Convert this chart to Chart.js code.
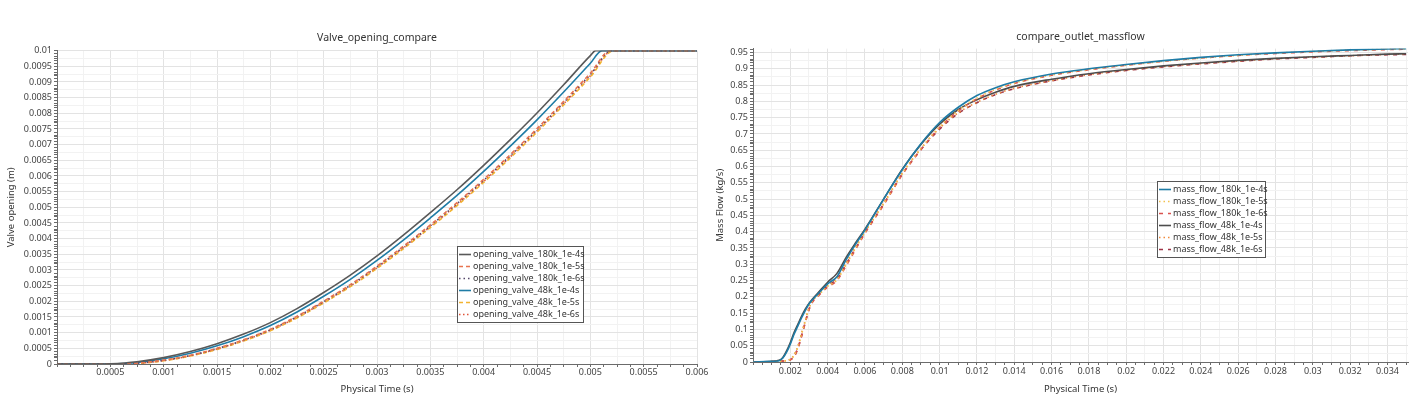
<!DOCTYPE html>
<html>
<head>
<meta charset="utf-8">
<script src="https://cdn.jsdelivr.net/npm/chart.js@4.4.1/dist/chart.umd.min.js"></script>
<style>
  html, body { margin: 0; padding: 0; background: #fff; }
  .wrap { position: absolute; top: 0; height: 400px; }
  #leftWrap { left: 0; width: 709px; }
  #rightWrap { left: 709px; width: 710px; }
</style>
</head>
<body>
<div class="wrap" id="leftWrap"><canvas id="valveChart" width="709" height="400"></canvas></div>
<div class="wrap" id="rightWrap"><canvas id="flowChart" width="710" height="400"></canvas></div>
<script>
// valve opening [time (s), opening (m)]
const opening180k_1e4s = [[0,0],[0.0004,0],[0.0005,0.000007],[0.00075,0.000073],[0.001,0.000204],[0.00125,0.000396],[0.0015,0.000646],[0.00175,0.000954],[0.002,0.00132],[0.00225,0.001766],[0.0025,0.00228],[0.00275,0.002835],[0.003,0.00345],[0.00325,0.00412],[0.0035,0.00483],[0.00375,0.00556],[0.004,0.00634],[0.00425,0.00716],[0.0045,0.00801],[0.00475,0.00891],[0.005,0.00984],[0.00505,0.01],[0.006,0.01]]
const opening180k_1e5s = [[0,0],[0.00054,0],[0.00075,0.000028],[0.001,0.000123],[0.00125,0.000281],[0.0015,0.000499],[0.00175,0.000775],[0.002,0.001107],[0.00225,0.001524],[0.0025,0.002007],[0.00275,0.002533],[0.003,0.003123],[0.00325,0.003764],[0.0035,0.004439],[0.00375,0.005146],[0.004,0.005892],[0.00425,0.006682],[0.0045,0.00751],[0.00475,0.008379],[0.005,0.009278],[0.00519,0.01],[0.006,0.01]]
const opening180k_1e6s = [[0,0],[0.00055,0],[0.00075,0.000024],[0.001,0.000117],[0.00125,0.000272],[0.0015,0.000488],[0.00175,0.000762],[0.002,0.001091],[0.00225,0.001506],[0.0025,0.001987],[0.00275,0.002511],[0.003,0.003099],[0.00325,0.003738],[0.0035,0.004411],[0.00375,0.005116],[0.004,0.00586],[0.00425,0.006648],[0.0045,0.007474],[0.00475,0.008341],[0.005,0.009238],[0.0052,0.01],[0.006,0.01]]
const opening48k_1e4s = [[0,0],[0.00046,0],[0.0005,0.000001],[0.00075,0.000049],[0.001,0.000165],[0.00125,0.000343],[0.0015,0.000579],[0.00175,0.000873],[0.002,0.001226],[0.00225,0.001659],[0.0025,0.00216],[0.00275,0.002702],[0.003,0.003305],[0.00325,0.003962],[0.0035,0.00466],[0.00375,0.005378],[0.004,0.006145],[0.00425,0.006953],[0.0045,0.007791],[0.00475,0.008679],[0.005,0.009597],[0.00511,0.01],[0.006,0.01]]
const opening48k_1e5s = [[0,0],[0.00057,0],[0.00075,0.000016],[0.001,0.000104],[0.00125,0.000254],[0.0015,0.000466],[0.00175,0.000735],[0.002,0.00106],[0.00225,0.00147],[0.0025,0.001947],[0.00275,0.002467],[0.003,0.00305],[0.00325,0.003685],[0.0035,0.004354],[0.00375,0.005055],[0.004,0.005795],[0.00425,0.006579],[0.0045,0.007401],[0.00475,0.008264],[0.005,0.009157],[0.00522,0.01],[0.006,0.01]]
const opening48k_1e6s = [[0,0],[0.00056,0],[0.00075,0.00002],[0.001,0.00011],[0.00125,0.000263],[0.0015,0.000477],[0.00175,0.000748],[0.002,0.001076],[0.00225,0.001488],[0.0025,0.001967],[0.00275,0.002489],[0.003,0.003075],[0.00325,0.003711],[0.0035,0.004382],[0.00375,0.005085],[0.004,0.005827],[0.00425,0.006613],[0.0045,0.007437],[0.00475,0.008302],[0.005,0.009197],[0.00521,0.01],[0.006,0.01]]

// outlet mass flow, shared time axis (s) and values (kg/s)
const flowTime = [0,0.001,0.0014,0.0016,0.0018,0.002,0.0022,0.0024,0.0026,0.0028,0.003,0.0032,0.0035,0.004,0.0045,0.005,0.0055,0.006,0.007,0.008,0.009,0.01,0.011,0.012,0.013,0.014,0.016,0.018,0.02,0.022,0.024,0.026,0.028,0.03,0.032,0.034,0.035]
const flow180k_1e4s = [0,0.002,0.004,0.012,0.03,0.055,0.085,0.11,0.135,0.158,0.178,0.192,0.21,0.24,0.262,0.315,0.362,0.405,0.5,0.59,0.67,0.735,0.782,0.818,0.842,0.86,0.884,0.9,0.913,0.925,0.935,0.943,0.949,0.954,0.958,0.961,0.962]
const flow180k_1e5s = [0,0.001,0.002,0.003,0.004,0.008,0.02,0.045,0.085,0.125,0.165,0.188,0.205,0.232,0.252,0.3,0.35,0.398,0.485,0.578,0.655,0.722,0.772,0.81,0.837,0.856,0.881,0.898,0.911,0.923,0.933,0.941,0.948,0.953,0.957,0.96,0.961]
const flow180k_1e6s = [0,0.001,0.002,0.003,0.004,0.007,0.016,0.04,0.078,0.12,0.16,0.185,0.203,0.23,0.25,0.296,0.346,0.395,0.482,0.575,0.652,0.72,0.77,0.808,0.835,0.855,0.88,0.897,0.911,0.923,0.933,0.941,0.947,0.952,0.956,0.959,0.96]
const flow48k_1e4s = [0,0.002,0.005,0.014,0.034,0.06,0.09,0.115,0.14,0.162,0.18,0.194,0.213,0.245,0.272,0.322,0.366,0.408,0.5,0.592,0.668,0.73,0.775,0.805,0.828,0.846,0.868,0.885,0.898,0.909,0.918,0.926,0.932,0.937,0.941,0.945,0.946]
const flow48k_1e5s = [0,0.001,0.002,0.003,0.004,0.008,0.022,0.048,0.088,0.128,0.167,0.19,0.208,0.236,0.258,0.305,0.354,0.4,0.488,0.58,0.655,0.718,0.765,0.797,0.822,0.84,0.864,0.882,0.896,0.907,0.916,0.924,0.931,0.936,0.94,0.944,0.945]
const flow48k_1e6s = [0,0.001,0.002,0.003,0.004,0.007,0.018,0.042,0.08,0.122,0.162,0.187,0.206,0.234,0.255,0.302,0.35,0.397,0.485,0.577,0.652,0.715,0.763,0.796,0.821,0.839,0.863,0.881,0.895,0.906,0.915,0.923,0.93,0.935,0.94,0.943,0.944]

// axis steps: labelled ticks, light grid, small tick marks
const valveXMajor = 0.0005, valveXMinor = 0.00025, valveXMark = 0.000125
const valveYMajor = 0.0005, valveYMinor = 0.00025, valveYMark = 0.0001
const flowXMajor = 0.002, flowXMinor = 0.001, flowXMark = 0.0005
const flowYMajor = 0.05, flowYMinor = 0.025, flowYMark = 0.01

const FONT = '"Noto Sans", "Open Sans", sans-serif'

function isMult(v, step) {
  const r = v / step
  return Math.abs(r - Math.round(r)) < 1e-6
}

function fmt(v) {
  return String(+v.toFixed(6))
}

// ticks at every small mark plus the light grid positions
function tickList(max, mark, minor) {
  const vals = []
  for (let i = 0; i * mark <= max + 1e-12; i++) vals.push(+(i * mark).toFixed(8))
  for (let i = 0; i * minor <= max + 1e-12; i++) {
    const v = +(i * minor).toFixed(8)
    if (!vals.some(x => Math.abs(x - v) < 1e-10)) vals.push(v)
  }
  return vals.sort((a, b) => a - b)
}

function makeAxis(opt) {
  return {
    type: 'linear',
    min: 0,
    max: opt.max,
    afterBuildTicks: scale => {
      scale.ticks = tickList(opt.max, opt.mark, opt.minor).map(v => ({value: v}))
    },
    afterFit: scale => {
      if (opt.width) scale.width = opt.width
      if (opt.height) scale.height = opt.height
      if (opt.padRight !== undefined) { scale.paddingRight = opt.padRight; scale.paddingLeft = 0 }
    },
    border: {color: '#6b6b6b', width: 1},
    grid: {
      color: c => {
        const v = c.tick ? c.tick.value : 0
        if (isMult(v, opt.major)) return '#e3e3e3'
        if (isMult(v, opt.minor)) return '#f2f2f2'
        return 'rgba(0,0,0,0)'
      },
      tickColor: '#6b6b6b',
      tickLength: 3,
      lineWidth: 1
    },
    ticks: {
      autoSkip: false,
      maxRotation: 0,
      padding: opt.tickPad,
      color: '#444',
      font: {family: FONT, size: 9},
      callback: v => (isMult(v, opt.major) && (opt.zero || v !== 0)) ? fmt(v) : ''
    },
    title: {
      display: true,
      text: opt.title,
      color: '#333',
      font: {family: FONT, size: 9.5},
      padding: opt.titlePad
    }
  }
}

// boxed legend drawn inside the plot
const boxLegend = {
  id: 'boxLegend',
  afterDraw(chart, args, o) {
    const ctx = chart.ctx
    const sets = chart.data.datasets
    const h = sets.length * o.rowH + 4
    ctx.save()
    ctx.fillStyle = '#fff'
    ctx.fillRect(o.x, o.y, o.w, h)
    ctx.strokeStyle = '#555'
    ctx.lineWidth = 1
    ctx.strokeRect(o.x + 0.5, o.y + 0.5, o.w, h)
    ctx.font = '9px ' + FONT
    ctx.textBaseline = 'middle'
    sets.forEach((ds, i) => {
      const cy = Math.round(o.y + 2 + o.rowH * i + o.rowH / 2) + 0.5
      ctx.strokeStyle = ds.borderColor
      ctx.lineWidth = ds.borderWidth
      ctx.setLineDash(ds.borderDash || [])
      ctx.beginPath()
      ctx.moveTo(o.x + 2, cy)
      ctx.lineTo(o.x + 14, cy)
      ctx.stroke()
      ctx.setLineDash([])
      ctx.fillStyle = '#333'
      ctx.fillText(ds.label, o.x + 16, cy)
    })
    ctx.restore()
  }
}

function series(label, data, color, dash) {
  return {
    label: label,
    data: data,
    borderColor: color,
    backgroundColor: color,
    borderWidth: 1.6,
    borderDash: dash,
    pointRadius: 0,
    fill: false,
    cubicInterpolationMode: 'monotone'
  }
}

function titleOpts(text, top, bottom) {
  return {
    display: true,
    text: text,
    fullSize: false,
    color: '#333',
    font: {family: FONT, size: 10.5, weight: 'normal'},
    padding: {top: top, bottom: bottom}
  }
}

new Chart(document.getElementById('valveChart'), {
  type: 'line',
  data: {
    datasets: [
      series('opening_valve_180k_1e-4s', opening180k_1e4s, '#595959', []),
      series('opening_valve_180k_1e-5s', opening180k_1e5s, '#e8744f', [4, 3]),
      series('opening_valve_180k_1e-6s', opening180k_1e6s, '#55476a', [1.5, 3]),
      series('opening_valve_48k_1e-4s', opening48k_1e4s, '#1f7ca6', []),
      series('opening_valve_48k_1e-5s', opening48k_1e5s, '#f2b431', [4, 3]),
      series('opening_valve_48k_1e-6s', opening48k_1e6s, '#e0553a', [1.5, 2.5])
    ]
  },
  options: {
    responsive: false,
    animation: false,
    layout: {padding: 0},
    scales: {
      x: makeAxis({max: 0.006, major: valveXMajor, minor: valveXMinor, mark: valveXMark, height: 36, padRight: 12, tickPad: 0, title: 'Physical Time (s)', titlePad: {top: 0, bottom: 5}}),
      y: makeAxis({max: 0.01, major: valveYMajor, minor: valveYMinor, mark: valveYMark, width: 57, zero: true, tickPad: 2, title: 'Valve opening (m)', titlePad: {top: 6, bottom: 0}})
    },
    plugins: {
      legend: {display: false},
      tooltip: {enabled: false},
      title: titleOpts('Valve_opening_compare', 32, 6),
      boxLegend: {x: 457, y: 246, w: 126, rowH: 12}
    }
  },
  plugins: [boxLegend]
})

const pts = vals => flowTime.map((t, i) => ({x: t, y: vals[i]}))

new Chart(document.getElementById('flowChart'), {
  type: 'line',
  data: {
    datasets: [
      series('mass_flow_180k_1e-4s', pts(flow180k_1e4s), '#1f7ca6', []),
      series('mass_flow_180k_1e-5s', pts(flow180k_1e5s), '#f2c14e', [1.5, 3]),
      series('mass_flow_180k_1e-6s', pts(flow180k_1e6s), '#d9534f', [4, 5]),
      series('mass_flow_48k_1e-4s', pts(flow48k_1e4s), '#4d4d4d', []),
      series('mass_flow_48k_1e-5s', pts(flow48k_1e5s), '#f08a3c', [1.5, 3]),
      series('mass_flow_48k_1e-6s', pts(flow48k_1e6s), '#9e3346', [4, 5])
    ]
  },
  options: {
    responsive: false,
    animation: false,
    layout: {padding: 0},
    scales: {
      x: makeAxis({max: 0.0351, major: flowXMajor, minor: flowXMinor, mark: flowXMark, height: 38, padRight: 11, tickPad: 1, title: 'Physical Time (s)', titlePad: {top: 0, bottom: 5}}),
      y: makeAxis({max: 0.962, major: flowYMajor, minor: flowYMinor, mark: flowYMark, width: 44, zero: true, tickPad: 2, title: 'Mass Flow (kg/s)', titlePad: {top: 6, bottom: 0}})
    },
    plugins: {
      legend: {display: false},
      tooltip: {enabled: false},
      title: titleOpts('compare_outlet_massflow', 31, 5),
      boxLegend: {x: 448, y: 181, w: 108, rowH: 12}
    }
  },
  plugins: [boxLegend]
})
</script>
</body>
</html>
